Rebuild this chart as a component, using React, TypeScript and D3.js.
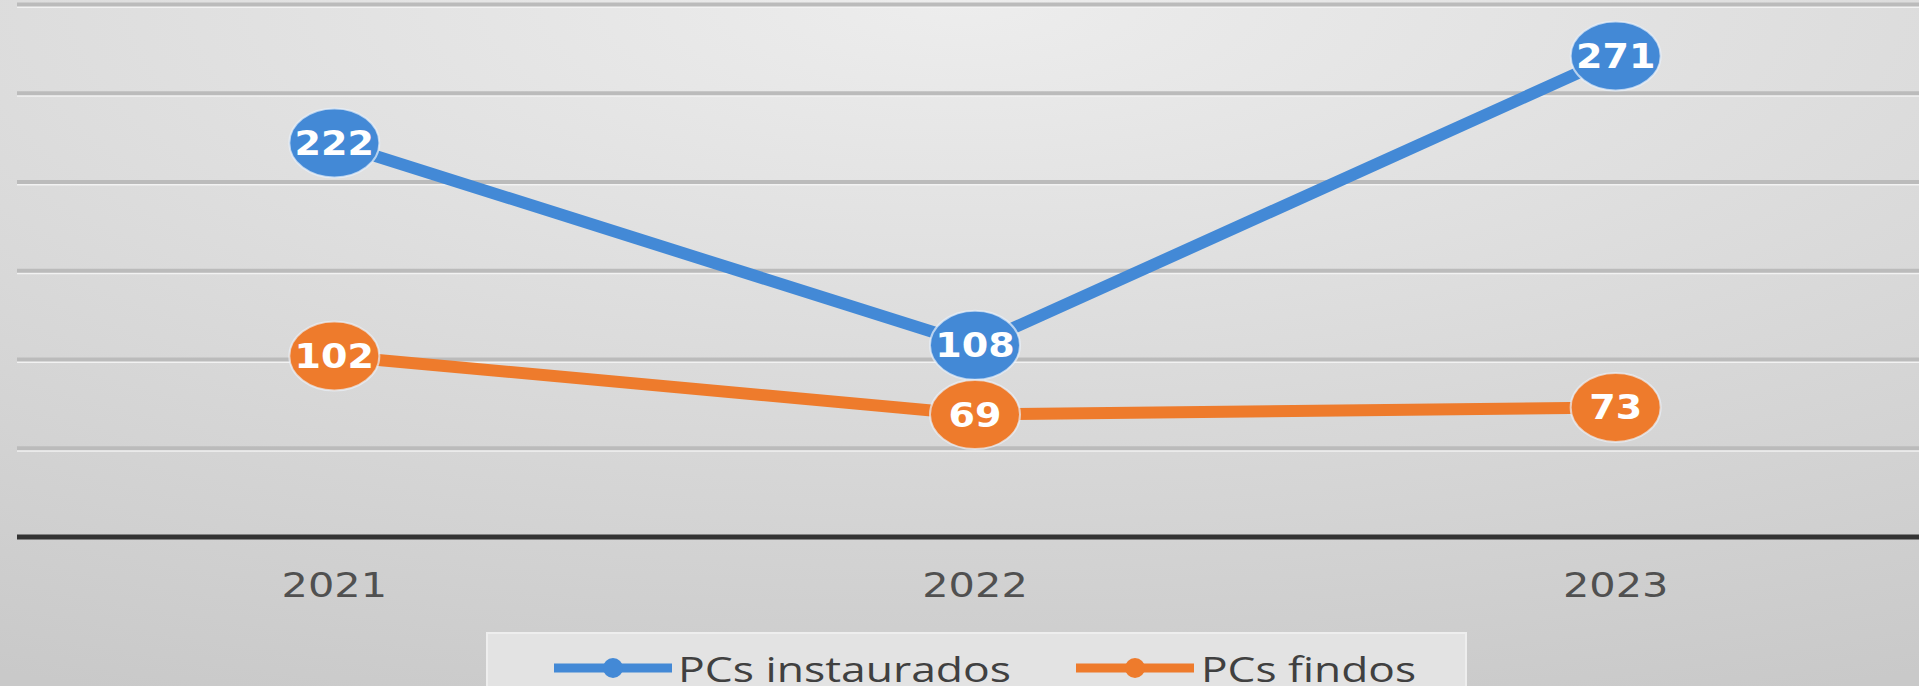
import React, { useEffect, useRef } from "react";
import * as d3 from "d3";

const years = ["2021", "2022", "2023"];
const instaurados = [222, 108, 271];
const findos = [102, 69, 73];
const seriesNames = ["PCs instaurados", "PCs findos"];
const seriesColors = ["#4389D6", "#EE7B2C"];

const W = 1919;
const H = 686;

const App: React.FC = () => {
  const svgRef = useRef<SVGSVGElement>(null);

  useEffect(() => {
    if (!svgRef.current) return;
    const svg = d3.select(svgRef.current);
    svg.selectAll("*").remove();

    // background gradient (lighter at top centre)
    const defs = svg.append("defs");
    const bg = defs
      .append("radialGradient")
      .attr("id", "bg")
      .attr("cx", "50%")
      .attr("cy", "0%")
      .attr("r", "110%");
    bg.append("stop").attr("offset", "0%").attr("stop-color", "#EDEDED");
    bg.append("stop").attr("offset", "100%").attr("stop-color", "#C9C9C9");

    svg.append("rect").attr("width", W).attr("height", H).attr("fill", "url(#bg)");

    const x = d3.scaleBand<string>().domain(years).range([14, 1936]);
    const y = d3.scaleLinear().domain([0, 300]).range([537, 4.5]);
    const cx = (d: string) => (x(d) as number) + x.bandwidth() / 2;

    // gridlines
    const grid = svg.append("g");
    y.ticks(6)
      .filter((t) => t > 0)
      .forEach((t) => {
        grid
          .append("line")
          .attr("x1", 17)
          .attr("x2", W)
          .attr("y1", y(t) + 2.5)
          .attr("y2", y(t) + 2.5)
          .attr("stroke", "#F2F2F2")
          .attr("stroke-width", 2);
        grid
          .append("line")
          .attr("x1", 17)
          .attr("x2", W)
          .attr("y1", y(t))
          .attr("y2", y(t))
          .attr("stroke", "#BBBBBB")
          .attr("stroke-width", 4);
      });

    // baseline
    svg
      .append("line")
      .attr("x1", 17)
      .attr("x2", W)
      .attr("y1", y(0))
      .attr("y2", y(0))
      .attr("stroke", "#333333")
      .attr("stroke-width", 5);

    // category labels
    svg
      .append("g")
      .selectAll("text")
      .data(years)
      .enter()
      .append("text")
      .attr("transform", (d) => `translate(${cx(d)},597) scale(1.22,1)`)
      .attr("text-anchor", "middle")
      .style("font-family", "'DejaVu Sans', sans-serif")
      .style("font-size", "34px")
      .style("fill", "#505050")
      .text((d) => d);

    const line = d3
      .line<number>()
      .x((d, i) => cx(years[i]))
      .y((d) => y(d));

    const series = [instaurados, findos];

    // lines first so both series' markers sit above them
    series.forEach((vals, si) => {
      svg
        .append("path")
        .datum(vals)
        .attr("d", line)
        .attr("fill", "none")
        .attr("stroke", seriesColors[si])
        .attr("stroke-width", 12)
        .attr("stroke-linejoin", "round");
    });

    series.forEach((vals, si) => {
      const g = svg.append("g");
      g.selectAll("ellipse")
        .data(vals)
        .enter()
        .append("ellipse")
        .attr("cx", (d, i) => cx(years[i]))
        .attr("cy", (d) => y(d))
        .attr("rx", 45)
        .attr("ry", 34.5)
        .attr("fill", seriesColors[si])
        .attr("stroke", "#EAF1FA")
        .attr("stroke-opacity", 0.7)
        .attr("stroke-width", 2);
      g.selectAll("text")
        .data(vals)
        .enter()
        .append("text")
        .attr("transform", (d, i) => `translate(${cx(years[i])},${y(d) + 12}) scale(1.12,1)`)
        .attr("text-anchor", "middle")
        .style("font-family", "'DejaVu Sans', sans-serif")
        .style("font-weight", "bold")
        .style("font-size", "34px")
        .style("fill", "#FFFFFF")
        .text((d) => d);
    });

    // legend
    const legend = svg.append("g");
    legend
      .append("rect")
      .attr("x", 487)
      .attr("y", 633)
      .attr("width", 979)
      .attr("height", 70)
      .attr("fill", "#E3E3E3")
      .attr("stroke", "#EEEEEE")
      .attr("stroke-width", 2);

    const items = [
      { x0: 554, textX: 678, textLen: 333 },
      { x0: 1076, textX: 1201, textLen: 215 },
    ];
    items.forEach((it, i) => {
      legend
        .append("line")
        .attr("x1", it.x0)
        .attr("x2", it.x0 + 118)
        .attr("y1", 668)
        .attr("y2", 668)
        .attr("stroke", seriesColors[i])
        .attr("stroke-width", 9);
      legend
        .append("circle")
        .attr("cx", it.x0 + 59)
        .attr("cy", 668)
        .attr("r", 10)
        .attr("fill", seriesColors[i]);
      legend
        .append("text")
        .attr("x", it.textX)
        .attr("y", 682)
        .attr("textLength", it.textLen)
        .attr("lengthAdjust", "spacingAndGlyphs")
        .style("font-family", "'Open Sans', sans-serif")
        .style("font-size", "35px")
        .style("fill", "#404040")
        .text(seriesNames[i]);
    });
  }, []);

  return (
    <>
      <style>{`body{margin:0;overflow:hidden}`}</style>
      <svg ref={svgRef} width={W} height={H} viewBox={`0 0 ${W} ${H}`} style={{ display: "block" }} />
    </>
  );
};

export default App;
